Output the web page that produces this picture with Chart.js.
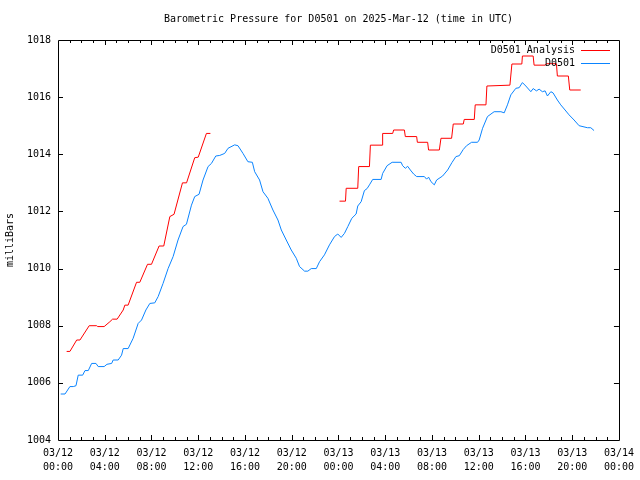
<!DOCTYPE html>
<html>
<head>
<meta charset="utf-8">
<script src="https://cdn.jsdelivr.net/npm/chart.js@4"></script>
<style>
body { margin: 0; background: #fff; }
canvas { display: block; }
</style>
</head>
<body>
<canvas id="chart1" width="640" height="480"></canvas>
<script>
// hours since 03/12 00:00 UTC
var anaHours = [0.74, 1.02, 1.6, 1.88, 2.67, 3.3, 3.4, 3.95, 4.44, 4.67, 5.06, 5.58, 5.72, 6.0, 6.72, 7.0,
	7.66, 8.0, 8.65, 9.05, 9.57, 9.93, 10.65, 11.0, 11.7, 12.0, 12.7, 13.04,
	13.5,
	24.09, 24.6, 24.66, 25.65, 25.73, 26.65, 26.73, 27.73, 27.78, 28.64, 28.72, 29.64, 29.72, 30.69, 30.75,
	31.63, 31.71, 32.63, 32.77, 33.68, 33.82, 34.68, 34.76, 35.62, 35.7, 36.62, 36.7, 38.67, 38.84, 39.69,
	39.74, 40.66, 40.74, 41.68, 41.79, 42.65, 42.73, 43.67, 43.79, 44.73];
var anaPressure = [1007.1, 1007.1, 1007.5, 1007.5, 1008.0, 1008.0, 1007.97, 1007.97, 1008.14, 1008.23, 1008.23,
	1008.55, 1008.72, 1008.72, 1009.52, 1009.52, 1010.15, 1010.15, 1010.79, 1010.79, 1011.82, 1011.9,
	1013.0, 1013.0, 1013.88, 1013.9, 1014.73, 1014.73,
	null,
	1012.36, 1012.36, 1012.81, 1012.81, 1013.57, 1013.57, 1014.32, 1014.32, 1014.73, 1014.73, 1014.85, 1014.85,
	1014.62, 1014.62, 1014.42, 1014.42, 1014.15, 1014.15, 1014.56, 1014.56, 1015.06, 1015.06, 1015.22, 1015.22,
	1015.73, 1015.73, 1016.39, 1016.42, 1017.16, 1017.16, 1017.44, 1017.44, 1017.12, 1017.12, 1017.17, 1017.17,
	1016.74, 1016.74, 1016.25, 1016.25];

var obsHours = [0.23, 0.6, 1.02, 1.31, 1.54, 1.73, 2.11, 2.31, 2.59, 2.88, 3.25, 3.44, 3.95, 4.19, 4.59, 4.72,
	5.15, 5.44, 5.58, 6.0, 6.43, 6.86, 7.15, 7.52, 7.86, 8.28, 8.57, 8.99, 9.42, 9.85, 10.27, 10.7, 10.99,
	11.42, 11.7, 12.07, 12.41, 12.84, 13.13, 13.5, 13.84, 14.26, 14.55, 15.12, 15.4, 15.83, 16.25, 16.63,
	16.83, 17.25, 17.54, 17.96, 18.39, 18.82, 19.11, 19.53, 19.96, 20.39, 20.67, 21.1, 21.38, 21.67, 22.1,
	22.38, 22.8, 23.23, 23.66, 23.94, 24.23, 24.51, 24.8, 25.14, 25.51, 25.65, 25.94, 26.22, 26.45, 26.65,
	26.93, 27.65, 27.78, 28.16, 28.59, 29.36, 29.49, 29.72, 29.92, 30.15, 30.43, 30.69, 31.35, 31.54, 31.71,
	31.92, 32.2, 32.4, 32.91, 33.34, 33.71, 34.05, 34.34, 34.68, 34.96, 35.39, 35.9, 36.04, 36.33, 36.75,
	37.32, 37.9, 38.18, 38.46, 38.75, 39.18, 39.46, 39.74, 40.03, 40.46, 40.66, 40.94, 41.17, 41.45, 41.68,
	41.88, 42.17, 42.36, 42.73, 43.02, 43.39, 43.73, 44.16, 44.59, 45.3, 45.59, 45.87];
var obsPressure = [1005.61, 1005.61, 1005.87, 1005.87, 1005.9, 1006.27, 1006.27, 1006.43, 1006.43, 1006.68,
	1006.68, 1006.57, 1006.57, 1006.65, 1006.68, 1006.8, 1006.8, 1006.97, 1007.2, 1007.2, 1007.56, 1008.08,
	1008.2, 1008.55, 1008.78, 1008.8, 1009.02, 1009.48, 1010.0, 1010.42, 1011.0, 1011.47, 1011.55, 1012.22,
	1012.52, 1012.6, 1013.1, 1013.57, 1013.68, 1013.94, 1013.96, 1014.03, 1014.21, 1014.33, 1014.3, 1014.03,
	1013.74, 1013.72, 1013.39, 1013.1, 1012.69, 1012.46, 1012.05, 1011.7, 1011.35, 1011.0, 1010.65, 1010.36,
	1010.07, 1009.91, 1009.91, 1010.0, 1010.0, 1010.24, 1010.48, 1010.83, 1011.12, 1011.21, 1011.09, 1011.23,
	1011.47, 1011.76, 1011.91, 1012.19, 1012.34, 1012.73, 1012.8, 1012.93, 1013.12, 1013.12, 1013.33, 1013.6,
	1013.72, 1013.72, 1013.6, 1013.51, 1013.58, 1013.45, 1013.31, 1013.22, 1013.22, 1013.13, 1013.2, 1013.04,
	1012.93, 1013.1, 1013.24, 1013.45, 1013.71, 1013.92, 1013.95, 1014.17, 1014.3, 1014.42, 1014.42, 1014.5,
	1014.91, 1015.32, 1015.49, 1015.49, 1015.45, 1015.73, 1016.08, 1016.31, 1016.33, 1016.51, 1016.39,
	1016.19, 1016.3, 1016.22, 1016.28, 1016.19, 1016.22, 1016.04, 1016.19, 1016.15, 1015.9, 1015.73, 1015.55,
	1015.38, 1015.2, 1015.0, 1014.93, 1014.93, 1014.83];

var dayLabels = ['03/12', '03/13', '03/14'];
var titleText = 'Barometric Pressure for D0501 on 2025-Mar-12 (time in UTC)';
var anaLabel = 'D0501 Analysis';
var obsLabel = 'D0501';

var monoFont = '"DejaVu Sans Mono", "Liberation Mono", monospace';
var anaColor = '#ff0000';
var obsColor = '#0a84ff';

function toPoints(xs, ys) {
	var pts = [];
	for (var i = 0; i < xs.length; i++) {
		pts.push({ x: xs[i], y: ys[i] });
	}
	return pts;
}

function pad2(n) {
	return (n < 10 ? '0' : '') + n;
}

// gnuplot-like frame, inward ticks, title and key
var framePlugin = {
	id: 'frame',
	afterDatasetsDraw: function(chart) {
		var ctx = chart.ctx;
		var a = chart.chartArea;
		var xs = chart.scales.x;
		var ys = chart.scales.y;
		ctx.save();
		ctx.strokeStyle = '#000';
		ctx.lineWidth = 1;
		ctx.beginPath();
		ctx.rect(Math.round(a.left) + 0.5, Math.round(a.top) + 0.5,
			Math.round(a.right - a.left), Math.round(a.bottom - a.top));
		for (var h = 1; h < 48; h++) {
			var px = Math.round(xs.getPixelForValue(h)) + 0.5;
			var len = (h % 4 === 0) ? 5 : 3;
			ctx.moveTo(px, a.bottom);
			ctx.lineTo(px, a.bottom - len);
			ctx.moveTo(px, a.top);
			ctx.lineTo(px, a.top + len);
		}
		for (var v = 1006; v < 1018; v += 2) {
			var py = Math.round(ys.getPixelForValue(v)) + 0.5;
			ctx.moveTo(a.left, py);
			ctx.lineTo(a.left + 5, py);
			ctx.moveTo(a.right, py);
			ctx.lineTo(a.right - 5, py);
		}
		ctx.stroke();

		ctx.fillStyle = '#000';
		ctx.font = '10px ' + monoFont;
		ctx.textBaseline = 'middle';
		ctx.textAlign = 'center';
		ctx.fillText(titleText, (a.left + a.right) / 2, 19);

		ctx.textAlign = 'right';
		ctx.fillText(anaLabel, 575, 50);
		ctx.fillText(obsLabel, 575, 63);
		ctx.beginPath();
		ctx.strokeStyle = anaColor;
		ctx.moveTo(581, 50.5);
		ctx.lineTo(610, 50.5);
		ctx.stroke();
		ctx.beginPath();
		ctx.strokeStyle = obsColor;
		ctx.moveTo(581, 63.5);
		ctx.lineTo(610, 63.5);
		ctx.stroke();
		ctx.restore();
	}
};

var ctx = document.getElementById('chart1').getContext('2d');
new Chart(ctx, {
	type: 'line',
	data: {
		datasets: [{
			label: anaLabel,
			data: toPoints(anaHours, anaPressure),
			borderColor: anaColor,
			borderWidth: 1,
			pointRadius: 0,
			tension: 0,
			spanGaps: false
		}, {
			label: obsLabel,
			data: toPoints(obsHours, obsPressure),
			borderColor: obsColor,
			borderWidth: 1,
			pointRadius: 0,
			tension: 0
		}]
	},
	options: {
		responsive: false,
		animation: false,
		devicePixelRatio: 1,
		layout: {
			padding: { top: 40, right: 20, bottom: 0, left: 0 }
		},
		plugins: {
			legend: { display: false },
			title: { display: false },
			tooltip: { enabled: false }
		},
		scales: {
			x: {
				type: 'linear',
				min: 0,
				max: 48,
				grid: { display: false, drawTicks: false },
				border: { display: false },
				afterFit: function(scale) { scale.height = 40; },
				ticks: {
					stepSize: 1,
					autoSkip: false,
					maxRotation: 0,
					padding: 6,
					color: '#000',
					font: { family: monoFont, size: 10, lineHeight: 1.4 },
					callback: function(value) {
						if (value % 4 !== 0) return '';
						return [dayLabels[Math.floor(value / 24)], pad2(value % 24) + ':00'];
					}
				}
			},
			y: {
				min: 1004,
				max: 1018,
				grid: { display: false, drawTicks: false },
				border: { display: false },
				afterFit: function(scale) { scale.width = 58; },
				title: {
					display: true,
					text: 'milliBars',
					color: '#000',
					font: { family: monoFont, size: 10 }
				},
				ticks: {
					stepSize: 2,
					padding: 7,
					color: '#000',
					font: { family: monoFont, size: 10 },
					callback: function(value) { return String(value); }
				}
			}
		}
	},
	plugins: [framePlugin]
});
</script>
</body>
</html>
